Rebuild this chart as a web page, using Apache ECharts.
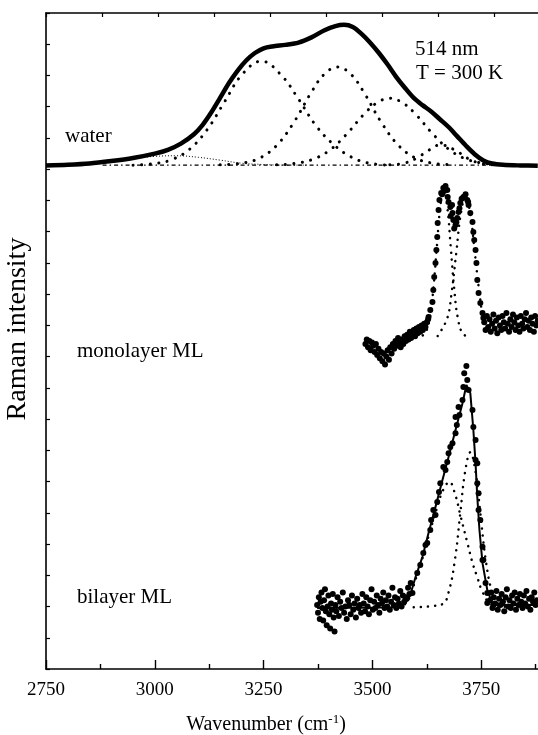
<!DOCTYPE html>
<html><head><meta charset="utf-8">
<script src="https://cdn.jsdelivr.net/npm/echarts@6/dist/echarts.min.js"></script>
<style>html,body{margin:0;padding:0;background:#fff}#c{width:538px;height:735px}</style>
</head><body><div id="c"></div>
<script>
// ---- tick labels ----
const xTickLabels = [2750, 3000, 3250, 3500, 3750];

// ---- water (top spectrum) ----
const waterTotal = [[2750,16.12],[2800,16.14],[2850,16.18],[2900,16.26],[2950,16.36],[3000,16.50],[3030,16.62],[3060,16.82],[3090,17.12],[3110,17.42],[3130,17.82],[3150,18.28],[3170,18.75],[3190,19.15],[3210,19.48],[3230,19.72],[3250,19.87],[3270,19.93],[3300,19.98],[3330,20.05],[3360,20.22],[3390,20.45],[3415,20.58],[3435,20.62],[3455,20.55],[3475,20.33],[3495,20.05],[3515,19.72],[3535,19.35],[3555,18.95],[3575,18.60],[3595,18.28],[3615,18.05],[3635,17.85],[3655,17.60],[3675,17.35],[3695,17.05],[3715,16.75],[3735,16.48],[3755,16.28],[3775,16.18],[3800,16.14],[3840,16.12],[3880,16.11]];
const waterBand1 = [[2900,16.25],[2950,16.34],[3000,16.41],[3050,16.43],[3100,16.38],[3150,16.29],[3200,16.19],[3250,16.15],[3300,16.13],[3350,16.13]];
const waterBand2 = [[2950,16.13],[3000,16.18],[3040,16.31],[3080,16.64],[3120,17.26],[3160,18.15],[3200,19.02],[3245,19.46],[3290,19.02],[3330,18.25],[3370,17.40],[3410,16.80],[3450,16.40],[3490,16.20],[3540,16.13]];
const waterBand3 = [[3150,16.14],[3200,16.19],[3240,16.35],[3280,16.76],[3320,17.51],[3360,18.47],[3390,19.05],[3420,19.27],[3450,19.05],[3480,18.47],[3520,17.51],[3560,16.76],[3600,16.35],[3640,16.19],[3690,16.14]];
const waterBand4 = [[3280,16.14],[3320,16.18],[3360,16.30],[3400,16.59],[3440,17.11],[3480,17.75],[3510,18.12],[3540,18.27],[3570,18.12],[3600,17.75],[3640,17.11],[3680,16.59],[3720,16.30],[3760,16.18],[3800,16.14]];
const waterBand5 = [[3540,16.14],[3570,16.18],[3600,16.34],[3630,16.61],[3656,16.78],[3690,16.61],[3720,16.34],[3750,16.18],[3780,16.14]];
const waterBaseline = [[2880,16.13],[3880,16.13]];

// ---- monolayer ML ----
const monoData = [[3484,10.40],[3487,10.55],[3490,10.30],[3493,10.50],[3496,10.20],[3499,10.45],[3502,10.35],[3505,10.15],[3508,10.40],[3511,10.05],[3514,10.25],[3517,9.95],[3520,10.15],[3523,9.85],[3526,10.10],[3529,9.75],[3532,10.00],[3535,10.20],[3538,9.90],[3541,10.30],[3544,10.10],[3547,10.40],[3550,10.25],[3553,10.50],[3556,10.35],[3559,10.60],[3562,10.45],[3565,10.30],[3568,10.55],[3571,10.40],[3574,10.65],[3577,10.50],[3580,10.70],[3583,10.55],[3586,10.80],[3589,10.60],[3592,10.75],[3595,10.85],[3598,10.65],[3601,10.90],[3604,10.75],[3607,10.95],[3610,10.80],[3613,11.00],[3616,10.85],[3619,11.05],[3622,10.95],[3625,11.10],[3628,11.20],
[3629,11.27],[3633,11.49],[3638,11.75],[3640,12.13],[3642,12.55],[3645,13.00],[3647,13.41],[3649,13.83],[3650,14.28],[3652,14.69],[3654,15.01],[3658,15.24],[3663,15.40],[3668,15.46],[3672,15.33],[3673,15.11],[3675,14.95],[3679,14.79],[3684,14.60],[3686,14.37],[3691,14.21],[3695,14.44],[3698,14.63],[3702,14.92],[3709,15.11],[3714,15.20],[3718,15.01],[3721,14.85],[3725,14.60],[3730,14.31],[3732,13.99],[3734,13.73],[3737,13.41],[3739,13.00],[3741,12.45],[3744,12.04],[3748,11.72],[3753,11.40],[3755,11.24],
[3680,14.50],[3688,14.10],[3693,14.30],[3700,14.75],[3683,14.85],[3705,15.05],[3665,15.30],[3660,15.20],[3712,15.10],[3720,14.95],
[3757,11.10],[3760,10.85],[3763,11.30],[3766,10.95],[3769,11.20],[3772,10.80],[3775,11.05],[3778,11.35],[3781,10.90],[3784,11.15],[3787,10.75],[3790,11.25],[3793,11.00],[3796,10.85],[3799,11.30],[3802,11.10],[3805,10.90],[3808,11.40],[3811,11.05],[3814,10.80],[3817,11.20],[3820,10.95],[3823,11.35],[3826,11.10],[3829,10.85],[3832,11.25],[3835,11.00],[3838,10.80],[3841,11.30],[3844,11.05],[3847,10.90],[3850,11.20],[3853,11.40],[3856,10.95],[3859,11.15],[3862,10.85],[3865,11.25],[3868,11.05],[3871,10.80],[3874,11.30],[3877,11.00],[3880,11.15]];
const monoBandA = [[3600,10.62],[3620,10.73],[3632,11.26],[3640,12.16],[3648,13.50],[3656,14.80],[3664,15.36],[3672,14.80],[3680,13.50],[3688,12.16],[3696,11.26],[3708,10.73],[3728,10.62]];
const monoBandB = [[3650,10.66],[3672,11.23],[3682,12.04],[3693,13.36],[3703,14.56],[3714,15.13],[3725,14.56],[3735,13.36],[3746,12.04],[3756,11.23],[3778,10.66]];

// ---- bilayer ML ----
const biData = [[3373,2.05],[3375,1.80],[3377,2.30],[3379,1.60],[3381,2.15],[3383,2.45],[3385,1.95],[3387,1.55],[3389,2.20],[3391,2.55],[3393,1.85],[3395,1.40],[3397,2.00],[3399,2.35],[3401,1.75],[3403,1.30],[3405,2.10],[3407,1.90],[3409,2.40],[3411,1.65],[3413,1.20],[3415,2.05],[3417,1.85],[3420,2.30],[3423,1.70],[3426,2.15],[3429,1.95],[3432,2.45],[3435,1.80],[3438,2.00],[3441,1.60],[3444,2.20],[3447,2.05],[3450,1.75],[3453,2.35],[3456,1.90],[3459,2.10],[3462,1.65],[3465,2.25],[3468,1.95],[3471,2.05],[3474,1.80],[3477,2.40],[3480,2.10],[3483,1.85],[3486,2.30],[3489,2.00],[3492,1.75],[3495,2.20],[3498,2.55],[3501,1.90],[3504,2.15],[3507,1.95],[3510,2.35],[3513,2.05],[3516,1.80],[3519,2.25],[3522,2.10],[3525,2.45],[3528,1.95],[3531,2.20],[3534,2.00],[3537,2.35],[3540,1.90],[3543,2.15],[3546,2.60],[3549,2.05],[3552,2.30],[3555,1.95],[3558,2.25],[3561,2.10],[3564,2.50],[3567,2.00],[3570,2.35],[3573,2.15],[3576,2.30],[3579,2.25],[3582,2.60],[3585,2.40],[3588,2.75],
[3592,2.43],[3603,3.07],[3610,3.33],[3617,3.71],[3622,3.97],[3626,4.03],[3633,4.45],[3635,4.77],[3640,5.09],[3645,4.93],[3649,5.35],[3653,5.67],[3656,5.95],[3663,6.47],[3668,6.37],[3672,6.63],[3675,6.91],[3679,7.11],[3684,7.23],[3691,7.55],[3691,8.07],[3694,7.81],[3698,8.39],[3700,8.13],[3707,8.61],[3709,9.03],[3711,9.47],[3716,9.70],[3718,9.25],[3721,8.93],[3730,8.29],[3732,7.75],[3737,7.33],[3737,6.69],[3741,6.59],[3741,5.95],[3744,5.63],[3744,5.09],[3748,4.77],[3753,3.91],[3753,3.49],[3755,3.49],[3760,2.75],[3764,2.43],[3764,2.11],[3778,2.05],
[3770,2.20],[3773,2.45],[3776,1.95],[3779,2.30],[3782,2.10],[3785,2.50],[3788,1.90],[3791,2.25],[3794,2.05],[3797,2.40],[3800,2.15],[3803,1.85],[3806,2.30],[3809,2.55],[3812,2.00],[3815,2.20],[3818,1.95],[3821,2.35],[3824,2.10],[3827,2.45],[3830,1.90],[3833,2.25],[3836,2.05],[3839,2.40],[3842,2.15],[3845,1.95],[3848,2.35],[3851,2.10],[3854,2.50],[3857,2.00],[3860,2.25],[3863,1.90],[3866,2.30],[3869,2.15],[3872,2.45],[3875,2.05],[3878,2.20]];
const biFit = [[3373,1.95],[3450,1.96],[3530,1.97],[3564,1.98],[3576,2.11],[3587,2.37],[3599,2.94],[3615,3.59],[3629,4.35],[3645,5.19],[3661,6.05],[3675,6.79],[3691,7.65],[3707,8.51],[3716,9.09],[3725,8.83],[3732,7.65],[3737,6.59],[3741,5.51],[3746,4.45],[3753,3.39],[3764,2.53],[3776,2.08],[3787,2.05],[3879,2.05]];
const biBandA = [[3560,1.98],[3580,2.15],[3600,2.90],[3615,3.55],[3630,4.30],[3645,5.00],[3660,5.65],[3677,5.99],[3690,5.60],[3702,4.93],[3718,4.05],[3730,3.40],[3741,2.94],[3752,2.50],[3770,2.10],[3800,1.98]];
const biBandB = [[3595,1.98],[3660,2.07],[3675,2.45],[3690,3.53],[3702,4.99],[3713,6.31],[3725,6.94],[3737,6.31],[3748,4.99],[3760,3.53],[3775,2.45],[3790,2.07],[3810,1.98]];

const FONT = 'Liberation Serif';
const black = '#000';
const bigDots = {color: black, width: 3, type: [0.1, 8.5], cap: 'round'};
const smallDots = {color: black, width: 2.5, type: [0.1, 7], cap: 'round'};

function lineSeries(data, style, smooth) {
  return {type: 'line', data: data, symbol: 'none', smooth: smooth, lineStyle: style, silent: true, z: 2};
}

const chart = echarts.init(document.getElementById('c'), null, {renderer: 'canvas'});
chart.setOption({
  animation: false,
  backgroundColor: '#fff',
  grid: {left: 46, top: 13, bottom: 66, width: 544, containLabel: false, outerBoundsMode: 'none'},
  xAxis: [{
    type: 'value', position: 'bottom', min: 2750, max: 4000, interval: 250,
    axisLine: {lineStyle: {color: black, width: 1.6}},
    axisTick: {inside: true, length: 9, lineStyle: {color: black, width: 1.4}},
    minorTick: {show: true, splitNumber: 2, length: 5, lineStyle: {color: black, width: 1.4}},
    splitLine: {show: false},
    axisLabel: {margin: 12, color: black, fontFamily: FONT, fontSize: 19,
      formatter: v => xTickLabels.indexOf(v) >= 0 ? String(v) : ''},
    name: 'Wavenumber (cm{sup|-1})', nameLocation: 'middle', nameGap: 44,
    nameTextStyle: {color: black, fontFamily: FONT, fontSize: 20, padding: [0, 104, 0, 0],
      rich: {sup: {fontFamily: FONT, fontSize: 13, color: black, padding: [0, 0, 10, 0]}}}
  }, {
    type: 'value', position: 'top', min: 2750, max: 3964, interval: 125,
    axisLine: {lineStyle: {color: black, width: 1.6}},
    axisTick: {inside: true, length: 4, lineStyle: {color: black, width: 1.2}},
    axisLabel: {show: false}, splitLine: {show: false}
  }],
  yAxis: {
    type: 'value', min: 0, max: 21, interval: 1,
    axisLine: {lineStyle: {color: black, width: 1.6}},
    axisTick: {inside: true, length: 4, lineStyle: {color: black, width: 1.2}},
    axisLabel: {show: false}, splitLine: {show: false},
    name: 'Raman intensity', nameLocation: 'middle', nameGap: 14,
    nameTextStyle: {color: black, fontFamily: FONT, fontSize: 28, padding: [0, 0, 0, 24]}
  },
  series: [
    lineSeries(waterBaseline, {color: black, width: 1.4, type: [4, 3, 1.5, 3]}, false),
    lineSeries(waterBand1, {color: black, width: 1, type: [1, 2]}, 0.4),
    lineSeries(waterBand2, bigDots, 0.4),
    lineSeries(waterBand3, bigDots, 0.4),
    lineSeries(waterBand4, bigDots, 0.4),
    lineSeries(waterBand5, bigDots, 0.4),
    lineSeries(waterTotal, {color: black, width: 4.5, join: 'round'}, 0.3),
    lineSeries(monoBandA, smallDots, 0.4),
    lineSeries(monoBandB, smallDots, 0.4),
    {type: 'scatter', data: monoData, symbol: 'circle', symbolSize: 6, itemStyle: {color: black, opacity: 1}, silent: true, z: 3},
    lineSeries(biBandA, smallDots, 0.4),
    lineSeries(biBandB, smallDots, 0.4),
    lineSeries(biFit, {color: black, width: 2}, false),
    {type: 'scatter', data: biData, symbol: 'circle', symbolSize: 6, itemStyle: {color: black, opacity: 1}, silent: true, z: 3}
  ],
  graphic: [
    {type: 'text', left: 65, top: 126, style: {text: 'water', fill: black, font: '21px "Liberation Serif"'}},
    {type: 'text', left: 415, top: 39, style: {text: '514 nm', fill: black, font: '21px "Liberation Serif"'}},
    {type: 'text', left: 416, top: 63, style: {text: 'T = 300 K', fill: black, font: '21px "Liberation Serif"'}},
    {type: 'text', left: 77, top: 341, style: {text: 'monolayer ML', fill: black, font: '21px "Liberation Serif"'}},
    {type: 'text', left: 77, top: 587, style: {text: 'bilayer ML', fill: black, font: '21px "Liberation Serif"'}}
  ]
});
</script></body></html>
